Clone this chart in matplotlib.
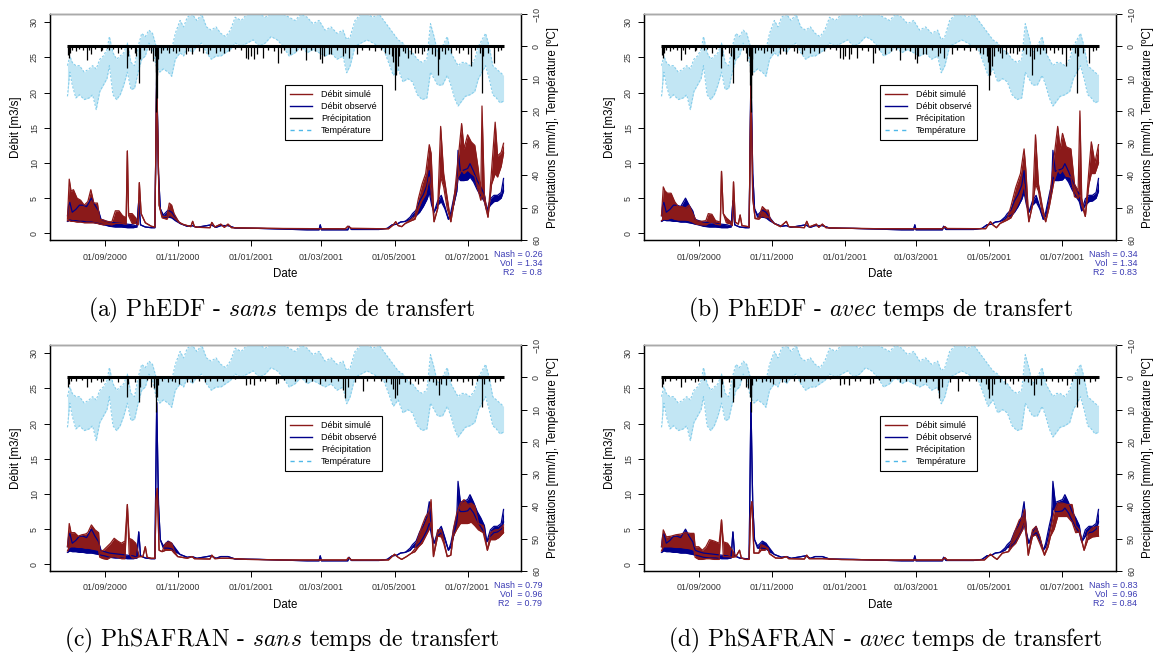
import numpy as np
import matplotlib
matplotlib.use("Agg")
import matplotlib.pyplot as plt
from matplotlib.lines import Line2D

plt.rcParams["mathtext.fontset"] = "cm"
plt.rcParams["font.family"] = ["Liberation Sans", "DejaVu Sans"]

# ---------------- data (day 0 = 01/08/2000) ----------------
START = "2000-08-01"
TICK_LABELS = ["01/09/2000", "01/11/2000", "01/01/2001", "01/03/2001", "01/05/2001", "01/07/2001"]
Q_TICKS = [0, 5, 10, 15, 20, 25, 30]
P_TICKS = [-10, 0, 10, 20, 30, 40, 50, 60]

# observed discharge: day, daily low, daily high [m3/s]
OBS = np.array([
    (0, 1.7, 2.5), (1, 1.8, 4.0), (2, 1.9, 4.4), (4, 1.8, 3.0), (7, 1.8, 3.4), (10, 1.7, 4.0),
    (13, 1.7, 4.0), (16, 1.6, 3.8), (20, 1.6, 5.0), (23, 1.5, 4.0), (26, 1.4, 3.2), (28, 1.3, 2.0),
    (31, 1.2, 1.8), (35, 1.0, 1.6), (40, 0.9, 1.5), (45, 0.9, 1.4), (50, 0.8, 1.3), (55, 0.8, 1.2),
    (58, 0.9, 1.0), (59.5, 4.6, 4.6), (61, 1.2, 1.2), (65, 0.9, 0.9), (70, 0.8, 0.8), (73, 0.8, 0.8),
    (74.5, 23.0, 23.0), (76, 8.5, 8.5), (77.5, 3.5, 3.5), (80, 2.3, 2.6), (84, 2.3, 3.3), (87, 2.2, 3.0),
    (90, 1.8, 2.3), (94, 1.4, 1.4), (100, 1.0, 1.0), (104, 1.1, 1.1), (108, 0.85, 0.85), (120, 1.2, 1.2),
    (124, 0.85, 0.85), (128, 1.1, 1.1), (134, 1.1, 1.1), (140, 0.75, 0.75), (160, 0.7, 0.7),
    (180, 0.6, 0.6), (200, 0.5, 0.5), (210, 0.5, 0.5), (211, 1.2, 1.2), (212, 0.5, 0.5),
    (234, 0.5, 0.5), (235, 1.0, 1.0), (237, 0.55, 0.55), (260, 0.55, 0.55), (267, 0.7, 0.7),
    (271, 1.2, 1.2), (275, 1.3, 1.3), (278, 1.6, 1.6), (282, 1.7, 1.7), (286, 2.0, 2.3),
    (288, 2.4, 2.8), (291, 2.5, 3.3), (294, 3.0, 4.6), (297, 3.8, 5.5), (300, 4.8, 6.8),
    (302, 5.8, 8.9), (304, 4.0, 4.5), (306, 3.0, 3.0), (309, 4.0, 4.6), (312, 4.5, 5.4),
    (315, 3.5, 3.8), (318, 2.0, 2.0), (320, 2.5, 3.0), (323, 4.5, 5.5), (325, 6.0, 7.0),
    (326, 8.0, 11.8), (328, 7.5, 8.8), (331, 7.5, 9.0), (334, 7.6, 9.2), (336, 8.0, 9.9),
    (339, 7.3, 8.8), (342, 6.2, 7.5), (345, 5.3, 6.6), (348, 4.5, 5.5), (350, 3.2, 3.2),
    (353, 4.0, 4.9), (356, 4.5, 5.4), (359, 4.6, 5.4), (362, 5.0, 5.8), (364, 6.0, 7.8)])

# simulated discharge, PhEDF without transfer time
SIM_A = np.array([
    (0, 1.8, 2.0), (1.5, 1.8, 7.7), (3, 1.7, 6.0), (5, 1.7, 6.2), (8, 1.6, 5.0), (11, 1.6, 4.7),
    (14, 1.5, 4.0), (17, 1.5, 4.5), (19.5, 1.5, 6.2), (22, 1.5, 4.3), (25, 1.4, 4.3), (27, 1.3, 2.0),
    (30, 1.2, 1.9), (33, 1.3, 1.7), (37, 1.2, 1.6), (40, 1.4, 3.2), (43, 1.4, 3.2), (46, 1.4, 2.5),
    (49, 1.3, 2.2), (50, 11.7, 11.7), (51, 2.5, 2.8), (54, 1.4, 2.8), (57, 1.4, 2.2), (59, 1.2, 1.4),
    (60, 7.2, 7.2), (61.5, 2.8, 2.8), (65, 1.5, 1.5), (70, 1.0, 1.0), (73, 0.9, 0.9),
    (74.5, 22.0, 22.0), (76.5, 4.0, 4.0), (79, 2.2, 2.4), (83, 2.0, 2.4), (85, 2.6, 4.3),
    (87, 2.4, 4.0), (89, 2.2, 2.8), (93, 1.6, 1.6), (96, 1.3, 1.3), (103, 0.95, 0.95),
    (104.5, 1.7, 1.7), (106, 0.95, 0.95), (110, 0.85, 0.85), (119, 0.8, 0.8), (120.5, 1.55, 1.55),
    (123, 0.9, 0.9), (128, 1.3, 1.3), (131, 0.85, 0.85), (134, 1.3, 1.3), (137, 0.8, 0.8),
    (150, 0.75, 0.75), (180, 0.68, 0.68), (232, 0.65, 0.65), (234, 1.0, 1.0), (237, 0.7, 0.7),
    (268, 0.65, 0.65), (272, 1.2, 1.2), (274, 1.65, 1.65), (276, 1.1, 1.1), (279, 0.95, 0.95),
    (282, 1.4, 1.4), (287, 1.8, 2.0), (290, 2.0, 2.4), (293, 3.5, 5.0), (296, 4.7, 7.0),
    (299, 5.5, 8.5), (302, 8.0, 12.6), (303.5, 6.0, 11.4), (306, 1.65, 1.65), (309, 3.5, 3.5),
    (311.5, 8.0, 15.2), (314, 6.6, 8.5), (317, 3.5, 5.0), (320, 1.65, 1.65), (323, 4.7, 5.5),
    (326, 8.0, 10.4), (329, 9.0, 15.6), (331, 8.5, 12.0), (334, 9.0, 14.0), (337, 8.5, 13.0),
    (340, 8.1, 12.5), (343, 6.0, 9.0), (345, 4.7, 5.7), (346, 5.5, 18.1), (348, 4.5, 5.5),
    (351, 2.3, 2.3), (354, 7.0, 9.0), (357, 8.5, 15.8), (359, 8.0, 11.0), (362, 9.5, 11.5),
    (364, 11.4, 12.8)])

# simulated discharge, PhEDF with transfer time
SIM_B = np.array([
    (0, 1.8, 2.5), (1.5, 2.0, 6.6), (3, 2.0, 6.0), (5, 2.0, 5.7), (8, 2.2, 5.7), (11, 2.0, 4.5),
    (14, 1.9, 3.8), (17, 1.9, 3.8), (20, 1.9, 3.6), (23, 1.8, 4.0), (26, 1.6, 2.8), (29, 1.3, 1.8),
    (33, 1.2, 1.7), (37, 1.2, 1.8), (39, 1.4, 2.8), (42, 1.6, 2.7), (45, 1.3, 1.8), (49, 1.2, 1.6),
    (50, 8.8, 8.8), (51.5, 2.8, 2.8), (54, 1.5, 2.2), (58, 1.3, 1.6), (59, 1.1, 1.1), (60, 7.3, 7.3),
    (61.5, 1.6, 1.6), (64, 1.3, 1.3), (65.5, 2.6, 2.6), (67, 1.1, 1.1), (72, 0.95, 0.95),
    (73, 0.9, 0.9), (74.5, 21.0, 21.0), (76, 5.0, 5.0), (78, 2.1, 2.1), (81, 2.0, 2.2),
    (84, 2.5, 3.8), (87, 2.2, 3.3), (89, 2.3, 3.3), (90.5, 2.0, 2.0), (94, 1.4, 1.4),
    (99, 0.95, 0.95), (104, 1.7, 1.7), (106, 0.95, 0.95), (119, 0.8, 0.8), (121, 1.7, 1.7),
    (123, 0.9, 0.9), (129, 1.3, 1.3), (131, 0.85, 0.85), (134, 1.3, 1.3), (137, 0.8, 0.8),
    (150, 0.72, 0.72), (180, 0.66, 0.66), (234, 0.66, 0.66), (236, 0.95, 0.95), (238, 0.68, 0.68),
    (270, 0.66, 0.66), (274, 1.65, 1.65), (276, 1.2, 1.2), (279, 0.8, 0.8), (282, 1.4, 1.4),
    (288, 1.9, 2.1), (291, 2.2, 3.8), (295, 3.5, 6.5), (299, 5.0, 8.5), (302, 7.0, 12.0),
    (303.5, 5.0, 9.0), (306, 1.65, 1.65), (309, 4.0, 4.0), (311.5, 7.0, 14.0), (314, 6.0, 7.0),
    (317, 3.0, 4.0), (320, 1.65, 1.65), (323, 3.8, 4.5), (327, 7.5, 10.9), (330, 9.0, 15.2),
    (332, 8.5, 12.0), (334, 9.0, 14.2), (337, 8.1, 12.3), (341, 8.0, 12.0), (344, 5.2, 7.0),
    (347, 5.0, 6.0), (348.5, 5.5, 17.4), (350, 4.0, 5.0), (353, 2.4, 2.4), (356, 7.0, 9.0),
    (358, 8.5, 13.0), (361, 8.5, 10.0), (364, 10.0, 12.6)])

# simulated discharge, PhSAFRAN without transfer time
SIM_C = np.array([
    (0, 1.9, 2.5), (1.5, 2.4, 5.8), (3, 2.5, 4.5), (6, 2.5, 4.5), (9, 2.4, 4.0), (12, 2.4, 4.2),
    (15, 2.3, 4.3), (17, 2.3, 4.5), (20, 2.2, 5.6), (23, 2.1, 4.9), (26, 2.0, 4.5), (27, 1.0, 1.8),
    (30, 0.8, 2.0), (33, 0.7, 2.5), (36, 1.0, 3.0), (39, 1.1, 3.7), (42, 1.0, 3.3), (45, 0.8, 3.0),
    (48, 0.8, 3.3), (50, 8.5, 8.5), (51.5, 1.5, 3.7), (54, 0.9, 3.5), (57, 0.9, 3.0), (60, 1.1, 1.1),
    (63, 1.1, 1.1), (65, 2.5, 2.5), (66.5, 1.0, 1.0), (70, 0.86, 0.86), (73, 0.86, 0.86),
    (74, 9.2, 9.2), (75, 10.8, 10.8), (76.5, 2.0, 2.0), (79, 1.8, 1.8), (82, 2.0, 3.0),
    (85, 2.0, 3.2), (87, 2.0, 3.0), (89, 1.6, 2.0), (92, 1.1, 1.1), (100, 0.86, 0.86),
    (104, 1.1, 1.1), (106, 0.8, 0.8), (119, 0.75, 0.75), (120.5, 1.3, 1.3), (123, 0.8, 0.8),
    (128, 0.86, 0.86), (134, 0.86, 0.86), (150, 0.7, 0.7), (180, 0.62, 0.62), (233, 0.62, 0.62),
    (234.5, 0.95, 0.95), (237, 0.62, 0.62), (268, 0.62, 0.62), (273, 1.43, 1.43), (276, 1.0, 1.0),
    (279, 0.7, 0.7), (283, 1.1, 1.1), (287, 1.57, 1.57), (290, 1.8, 2.2), (293, 2.5, 4.0),
    (296, 3.0, 5.5), (299, 4.0, 6.8), (302, 5.0, 7.5), (303.5, 6.0, 9.2), (305.5, 1.1, 1.1),
    (309, 4.0, 4.9), (312, 3.9, 4.9), (314, 3.0, 3.5), (317, 1.1, 1.1), (320, 1.3, 1.3),
    (322, 4.0, 4.9), (325, 5.0, 7.3), (328, 5.8, 8.7), (331, 5.8, 9.2), (334, 5.8, 8.5),
    (337, 6.0, 8.7), (340, 5.5, 8.3), (343, 4.9, 5.8), (347, 4.5, 5.5), (350.5, 2.0, 2.0),
    (353, 3.5, 4.5), (357, 3.5, 4.9), (360, 3.8, 4.9), (364, 4.5, 5.6)])

# simulated discharge, PhSAFRAN with transfer time
SIM_D = np.array([
    (0, 1.9, 2.5), (1.5, 2.5, 4.9), (4, 2.5, 3.9), (8, 2.5, 4.0), (12, 2.4, 4.2), (16, 2.4, 4.3),
    (20, 2.3, 4.5), (24, 2.2, 4.4), (27, 2.0, 4.4), (28, 1.0, 2.5), (31, 0.7, 2.5), (34, 0.7, 2.0),
    (37, 0.8, 2.5), (40, 0.8, 3.5), (44, 0.7, 3.3), (48, 0.7, 3.0), (50, 6.3, 6.3), (51.5, 1.1, 3.2),
    (55, 1.1, 3.0), (59, 1.0, 2.0), (62, 1.1, 1.1), (65, 2.0, 2.0), (66.5, 0.9, 0.9), (70, 0.7, 0.7),
    (73, 0.7, 0.7), (74.3, 7.8, 7.8), (75.3, 8.9, 8.9), (77, 1.6, 1.6), (81, 1.6, 1.6),
    (83, 2.0, 2.8), (86, 2.0, 2.6), (88.5, 2.3, 2.3), (90, 1.5, 1.5), (95, 0.9, 0.9),
    (100, 0.86, 0.86), (104, 1.1, 1.1), (106, 0.8, 0.8), (119, 0.75, 0.75), (121, 1.3, 1.3),
    (123, 0.8, 0.8), (134, 0.8, 0.8), (150, 0.68, 0.68), (180, 0.62, 0.62), (234, 0.62, 0.62),
    (236, 0.95, 0.95), (238, 0.62, 0.62), (269, 0.62, 0.62), (274, 1.43, 1.43), (277, 1.0, 1.0),
    (279.5, 0.7, 0.7), (284, 1.6, 1.6), (289, 1.8, 1.8), (292, 2.5, 3.5), (295, 3.0, 5.0),
    (298, 4.0, 6.3), (301, 5.0, 6.8), (302.5, 6.0, 7.8), (305.5, 1.3, 1.3), (309, 4.0, 4.9),
    (312, 4.2, 5.4), (315, 3.0, 4.0), (319, 1.3, 1.3), (322, 2.5, 3.0), (324, 4.0, 4.9),
    (327, 5.0, 7.5), (330, 6.8, 8.7), (334, 6.8, 8.7), (338, 6.8, 8.5), (342, 6.0, 8.5),
    (345, 4.5, 5.5), (348, 4.6, 4.9), (352, 2.0, 2.0), (355, 3.5, 4.5), (359, 3.9, 5.2),
    (364, 4.0, 5.4)])

# precipitation peaks [mm/h]: day, intensity
PRECIP_EDF = np.array([
    (0.5, 2.6), (1.5, 3.6), (2.5, 2.0), (4, 1.0), (7, 1.5), (10, 0.8), (13, 1.2), (16, 4.1), (18, 1.0),
    (20, 2.5), (23, 0.8), (28, 1.5), (29, 1.0), (33, 0.6), (35, 1.0), (38, 0.8), (42, 2.0), (45, 0.8),
    (49.5, 6.7), (50.2, 3.0), (53, 0.8), (56, 2.0), (57.5, 3.0), (59.5, 11.3), (60.2, 4.0), (64, 1.0),
    (68, 1.2), (70, 2.0), (71, 4.6), (73, 3.0), (73.5, 8.0), (74, 12.0), (74.3, 20.5), (74.6, 16.0),
    (75, 9.0), (75.5, 4.0), (78, 2.0), (80, 1.0), (83, 1.0), (85, 2.0), (88, 1.5), (91, 2.0),
    (93, 1.5), (99, 2.5), (101, 1.5), (104, 2.5), (110, 1.5), (113, 2.0), (117, 2.5), (119, 1.0),
    (124, 2.0), (127, 1.5), (131, 2.0), (135, 1.5), (140, 0.8), (145, 1.0), (149, 3.5), (151, 4.0),
    (153, 3.0), (156, 4.0), (158, 2.5), (163, 3.6), (167, 1.0), (172, 1.5), (176, 5.2), (178, 2.0),
    (181, 1.0), (186, 2.5), (191, 1.5), (195, 1.0), (199, 4.1), (203, 1.0), (207, 1.5), (211, 4.0),
    (212.5, 5.2), (214, 3.0), (218, 2.5), (220, 2.5), (225, 1.0), (230, 3.0), (232, 2.0), (235, 3.6),
    (242, 2.5), (246, 1.0), (252, 1.0), (257, 1.5), (262, 1.0), (265, 2.0), (268, 2.5), (271, 3.0),
    (272, 5.0), (273, 13.4), (274, 9.0), (275.5, 6.0), (277, 3.0), (280, 1.5), (282, 2.0), (284, 3.5),
    (287, 2.5), (290, 2.0), (293, 2.0), (296, 2.5), (298, 1.5), (301, 1.0), (304, 2.5), (307, 3.0),
    (309, 8.8), (310, 4.0), (313, 1.5), (315, 2.5), (318, 1.0), (320, 2.0), (324, 1.0), (327, 2.0),
    (330, 1.0), (334, 2.5), (337, 6.2), (340, 1.0), (344, 2.0), (346, 14.4), (347, 3.0), (351, 2.0),
    (356, 5.2), (359, 1.5), (362, 1.0)])

PRECIP_SAFRAN = np.array([
    (0.5, 2.9), (1.5, 2.0), (3, 1.0), (7, 1.0), (12, 0.8), (16, 3.0), (20, 1.5), (25, 0.8), (28, 1.5),
    (30, 1.2), (35, 0.8), (42, 1.5), (49.5, 6.0), (50.2, 2.0), (56, 1.5), (59.5, 7.5), (60.2, 3.0),
    (66, 0.8), (70, 3.0), (72, 3.4), (73.5, 6.0), (74.3, 10.6), (74.8, 6.0), (75.5, 2.5), (79, 1.0),
    (84, 1.5), (87, 1.0), (90, 1.5), (93, 2.0), (100, 1.5), (104, 1.5), (110, 1.0), (115, 1.5),
    (119, 1.2), (125, 1.0), (130, 1.0), (140, 0.6), (149, 2.5), (152, 2.2), (156, 2.5), (161, 1.0),
    (165, 1.0), (174, 2.0), (176, 1.8), (181, 0.8), (190, 1.0), (199, 1.5), (204, 1.0), (211, 2.0),
    (215, 1.0), (220, 1.5), (226, 1.0), (230, 4.0), (231.5, 6.5), (234, 3.0), (240, 1.5), (247, 4.4),
    (250, 1.0), (256, 1.2), (262, 1.0), (266, 1.5), (270, 2.0), (272, 3.5), (273, 6.5), (275, 5.5),
    (277, 2.0), (282, 1.5), (286, 2.0), (290, 1.0), (293, 2.0), (297, 1.0), (302, 1.0), (305, 1.5),
    (308, 2.5), (310, 5.5), (312, 2.0), (316, 2.5), (320, 1.0), (325, 1.0), (330, 1.5), (334, 1.0),
    (338, 2.5), (342, 1.0), (346, 9.1), (348, 2.0), (352, 1.0), (357, 1.5), (361, 1.0)])

# air temperature [degC]: day, daily min, daily max
TEMP = np.array([
    (0, 6, 15.5), (2, 3, 8), (4, 5, 12), (7, 6, 16), (10, 6, 15), (14, 8, 16.5), (18, 7, 16),
    (21, 6, 15), (24, 7, 19.6), (27, 4, 14), (30, 3, 12), (33, 1, 10), (35, -3, 6), (38, 2, 15),
    (41, 4, 16.5), (44, 3, 15), (47, 2, 12), (50, -1, 8), (53, 5, 13.4), (56, 6, 13), (59, 0, 8),
    (62, -4, 4), (65, -3, 3), (68, -5, -1), (71, -4, 1), (74, 0, 6), (77, 0, 8), (80, 1, 7),
    (84, 0, 8), (87, 1, 9.3), (90, -4, 4), (94, -8, 2), (97, -6, 3), (100, -9, 0), (104, -10, 2),
    (108, -8, 0), (112, -10, -1), (116, -6, 2), (120, -5, 4), (124, -6, 3), (128, -4, 3),
    (132, -3, 2), (136, -5, 1), (140, -9, -1), (145, -8, 0), (150, -10, -1), (155, -10, -2),
    (160, -10, 0), (165, -9, -1), (170, -10, -3), (175, -10, -2), (180, -10, 0), (185, -9, 3),
    (190, -8, 2), (195, -10, 0), (200, -9, 2), (205, -7, 1), (210, -8, 2), (215, -5, 3),
    (220, -6, 2), (225, -4, 4), (230, -5, 3), (233, -2, 8.2), (236, -3, 6), (240, -8, 0),
    (245, -10, -1), (250, -10, -2), (255, -9, -1), (260, -10, 0), (264, -8, 1), (268, -6, 5),
    (272, -4, 9), (276, -2, 7), (280, -1, 11), (284, 1, 10), (288, 2, 11), (292, 4, 15),
    (296, 5, 16.5), (300, 4, 16), (303, -7, 8), (306, -3, 10), (309, 2, 12), (313, 0, 12),
    (317, -3, 9), (320, 2, 12), (323, 4, 16), (326, 6, 18.5), (329, 5, 17), (332, 5, 15.5),
    (336, 6, 15), (340, 4, 14), (343, 0, 10), (346, -2, 8), (349, -4, 6), (352, 0, 10),
    (355, 6, 15), (358, 7, 16), (361, 8, 17.5), (364, 9, 17)])

PANELS = ["a", "b", "c", "d"]
SIMS = [SIM_A, SIM_B, SIM_C, SIM_D]
PRECIPS = [PRECIP_EDF, PRECIP_EDF, PRECIP_SAFRAN, PRECIP_SAFRAN]
NASH = ["0.26", "0.34", "0.79", "0.83"]
VOL = ["1.34", "1.34", "0.96", "0.96"]
R2 = ["0.8", "0.83", "0.79", "0.84"]
MODEL = ["PhEDF", "PhEDF", "PhSAFRAN", "PhSAFRAN"]
MODE = ["sans", "avec", "sans", "avec"]

# ---------------- style ----------------
SIM_C_ = "#8B1A1A"
OBS_C_ = "#00008B"
TEMP_C_ = "#87CEEB"
STAT_C_ = "#3A3AB4"
TICK_FS = 6.4
LAB_FS = 8.3

W, H = 1159, 657
fig = plt.figure(figsize=(W / 100, H / 100), dpi=100)

# axes boxes in pixels: left, top, right, bottom
BOXES = [(50, 14, 521, 240), (644, 14, 1116, 240), (50, 345, 521, 571), (644, 345, 1116, 571)]
CAPTION_XY = [(282, 310), (880, 310), (282, 640), (885, 640)]

base = np.datetime64(START)
tick_days = [(np.datetime64("%s-%s-%s" % (s[6:], s[3:5], s[0:2])) - base).astype(int) for s in TICK_LABELS]


def series(ax, arr, color):
    t, lo, hi = arr[:, 0], arr[:, 1], arr[:, 2]
    ax.fill_between(t, lo, hi, color=color, lw=0)
    ax.plot(t, lo, color=color, lw=0.9)
    ax.plot(t, hi, color=color, lw=0.9)


for i in range(4):
    l, tp, r, b = BOXES[i]
    ax = fig.add_axes([l / W, 1 - b / H, (r - l) / W, (b - tp) / H])
    series(ax, OBS, OBS_C_)
    series(ax, SIMS[i], SIM_C_)
    span = OBS[-1, 0] - OBS[0, 0]
    ax.set_xlim(OBS[0, 0] - 0.04 * span, OBS[-1, 0] + 0.04 * span)
    ax.set_ylim(-0.95, 31.18)
    ax.set_xticks(tick_days)
    ax.set_xticklabels(TICK_LABELS)
    ax.set_yticks(Q_TICKS)
    ax.tick_params(axis="both", labelsize=TICK_FS, direction="out", length=4, width=0.7, colors="black")
    ax.tick_params(axis="x", pad=5)
    ax.tick_params(axis="y", pad=4)
    for lab in ax.get_yticklabels():
        lab.set_rotation(90)
        lab.set_va("center")
    for lab in ax.get_xticklabels() + ax.get_yticklabels():
        lab.set_color("#333333")
    ax.set_ylabel("Débit [m3/s]", fontsize=LAB_FS, labelpad=6)
    ax.set_xlabel("Date", fontsize=LAB_FS, labelpad=5)

    ax2 = ax.twinx()
    ax2.set_ylim(60, -10)
    tt = TEMP[:, 0]
    ax2.fill_between(tt, TEMP[:, 1], TEMP[:, 2], color=TEMP_C_, alpha=0.5, lw=0)
    ax2.plot(tt, TEMP[:, 1], color=TEMP_C_, lw=0.8, ls=(0, (2, 1.5)))
    ax2.plot(tt, TEMP[:, 2], color=TEMP_C_, lw=0.8, ls=(0, (2, 1.5)))
    P = PRECIPS[i]
    ax2.vlines(P[:, 0], 0, P[:, 1], color="black", lw=0.9)
    ax2.hlines(0, OBS[0, 0], OBS[-1, 0], color="black", lw=2.2)
    ax2.set_yticks(P_TICKS)
    ax2.tick_params(axis="y", labelsize=TICK_FS, direction="out", length=4, width=0.7, pad=4)
    for lab in ax2.get_yticklabels():
        lab.set_rotation(90)
        lab.set_va("center")
        lab.set_color("#333333")
    ax2.set_ylabel("Precipitations [mm/h], Température [ºC]", fontsize=LAB_FS, labelpad=4)
    for a in (ax, ax2):
        for s in a.spines.values():
            s.set_linewidth(0.9)
    ax2.spines["top"].set_color("#aaaaaa")

    handles = [Line2D([], [], color=SIM_C_, lw=1.0), Line2D([], [], color=OBS_C_, lw=1.0),
               Line2D([], [], color="black", lw=1.0), Line2D([], [], color="#4FB8E8", lw=1.0, ls=(0, (3, 3)))]
    leg = ax2.legend(handles, ["Débit simulé", "Débit observé", "Précipitation", "Température"],
                     loc="upper left", bbox_to_anchor=(0.499, 0.688), fontsize=6.5, frameon=True,
                     fancybox=False, edgecolor="black", framealpha=1, handlelength=2.4,
                     handletextpad=1.0, borderpad=0.6, labelspacing=0.33, borderaxespad=0)
    leg.get_frame().set_linewidth(0.8)

    for k, txt in enumerate(["Nash = " + NASH[i], "Vol  = " + VOL[i], "R2   = " + R2[i]]):
        ax.text(1.045, -0.066 - 0.04 * k, txt, transform=ax.transAxes, ha="right", va="center",
                fontsize=6.4, color=STAT_C_)

    cx, cy = CAPTION_XY[i]
    fig.text(cx / W, 1 - cy / H,
             "(%s) %s - $\\mathit{%s}$ temps de transfert" % (PANELS[i], MODEL[i], MODE[i]),
             ha="center", va="center", fontsize=17, family=["cmr10", "DejaVu Serif"])

fig.savefig("out.png", dpi=100)
